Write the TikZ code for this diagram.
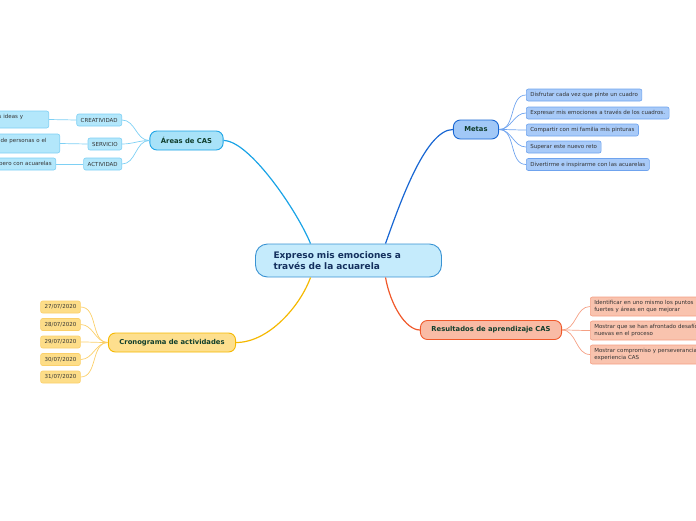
\documentclass[tikz,border=0pt]{standalone}
\usepackage{fontspec}
\setmainfont{DejaVu Sans}
\usepackage{tikz}

\definecolor{mainfill}{HTML}{C5EBFC}
\definecolor{mainline}{HTML}{3A93D3}
\definecolor{navytext}{HTML}{14305E}
\definecolor{greentext}{HTML}{103E2C}
\definecolor{leaftext}{HTML}{333333}
\definecolor{casfill}{HTML}{A8E2F8}
\definecolor{casline}{HTML}{1AA3E6}
\definecolor{subfill}{HTML}{B3E7FB}
\definecolor{subline}{HTML}{7ED0F4}
\definecolor{metfill}{HTML}{A1C8F7}
\definecolor{metline}{HTML}{1766D3}
\definecolor{metleaf}{HTML}{A8CAF8}
\definecolor{metleafline}{HTML}{6FA3EE}
\definecolor{resfill}{HTML}{F9BBA5}
\definecolor{resline}{HTML}{F0592B}
\definecolor{resleaf}{HTML}{F9C3AE}
\definecolor{resleafline}{HTML}{F5A084}
\definecolor{cronfill}{HTML}{FDDF8E}
\definecolor{cronline}{HTML}{F5B800}
\definecolor{cronleaf}{HTML}{FDDD88}
\definecolor{cronleafline}{HTML}{FBD06A}

\begin{document}
\begin{tikzpicture}[x=1pt,y=-1pt]

\tikzset{
    topic/.style={draw, line width=0.9pt, rounded corners=7pt, inner xsep=11pt, minimum height=19pt, text=greentext, font=\fontsize{6.8}{8}\selectfont\bfseries},
    leaf/.style={draw, line width=0.6pt, rounded corners=2pt, inner xsep=4pt, inner ysep=2pt, minimum height=12pt, text=leaftext, font=\fontsize{5.5}{6.8}\selectfont, align=left},
    twig/.style={line width=0.7pt},
    branch/.style={line width=1.2pt}
}
\useasboundingbox (0,0) rectangle (696,520);
\clip (0,0) rectangle (696,520);

\node[draw=mainline, fill=mainfill, line width=0.9pt, rounded corners=12pt, text width=150pt, align=left, inner xsep=18pt, minimum height=33pt, text=navytext, font=\fontsize{9}{11.5}\selectfont\bfseries] (main) at (348.5,260.5) {Expreso mis emociones a\\través de la acuarela};

% Areas de CAS
\node[topic, draw=casline, fill=casfill] (areas) at (186.5,140.5) {Áreas de CAS};
\node[leaf, draw=subline, fill=subfill, anchor=east] (creat) at (122,120) {CREATIVIDAD};
\node[leaf, draw=subline, fill=subfill, anchor=east] (serv) at (122,144) {SERVICIO};
\node[leaf, draw=subline, fill=subfill, anchor=east] (activ) at (122,164) {ACTIVIDAD};
\node[leaf, draw=subline, fill=subfill, anchor=east, text width=46pt, minimum height=17pt] (ideas) at (49,119.5) {s ideas y\\\mbox{}};
\node[leaf, draw=subline, fill=subfill, anchor=east, text width=55pt, minimum height=19pt] (personas) at (60,143.5) {de personas o el\\\mbox{}};
\node[leaf, draw=subline, fill=subfill, anchor=east, text width=62pt, align=right] (acuarelas) at (56,164) {pero con acuarelas};

% Metas
\node[topic, draw=metline, fill=metfill] (metas) at (476,129.5) {Metas};
\node[leaf, draw=metleafline, fill=metleaf, anchor=west] (m1) at (526,95) {Disfrutar cada vez que pinte un cuadro};
\node[leaf, draw=metleafline, fill=metleaf, anchor=west] (m2) at (526,113) {Expresar mis emociones a través de los cuadros.};
\node[leaf, draw=metleafline, fill=metleaf, anchor=west] (m3) at (526,130) {Compartir con mi familia mis pinturas};
\node[leaf, draw=metleafline, fill=metleaf, anchor=west] (m4) at (526,147) {Superar este nuevo reto};
\node[leaf, draw=metleafline, fill=metleaf, anchor=west] (m5) at (526,164.5) {Divertirme e inspirarme con las acuarelas};

% Resultados
\node[topic, draw=resline, fill=resfill] (res) at (491,330) {Resultados de aprendizaje CAS};
\node[leaf, draw=resleafline, fill=resleaf, anchor=west, text width=115pt, minimum height=19pt] (r1) at (590,306.5) {Identificar en uno mismo los puntos\\fuertes y áreas en que mejorar};
\node[leaf, draw=resleafline, fill=resleaf, anchor=west, text width=115pt, minimum height=19pt] (r2) at (590,330.5) {Mostrar que se han afrontado desafíos\\nuevas en el proceso};
\node[leaf, draw=resleafline, fill=resleaf, anchor=west, text width=115pt, minimum height=19pt] (r3) at (590,354.5) {Mostrar compromiso y perseverancia\\experiencia CAS};

% Cronograma
\node[topic, draw=cronline, fill=cronfill] (cron) at (172,342.5) {Cronograma de actividades};
\node[leaf, draw=cronleafline, fill=cronleaf] (d1) at (60.5,307) {27/07/2020};
\node[leaf, draw=cronleafline, fill=cronleaf] (d2) at (60.5,324.5) {28/07/2020};
\node[leaf, draw=cronleafline, fill=cronleaf] (d3) at (60.5,342) {29/07/2020};
\node[leaf, draw=cronleafline, fill=cronleaf] (d4) at (60.5,359.5) {30/07/2020};
\node[leaf, draw=cronleafline, fill=cronleaf] (d5) at (60.5,377) {31/07/2020};

% main branches
\draw[branch, casline] ([xshift=-38pt]main.north) .. controls +(-13,-32) and +(26,0) .. (areas.east);
\draw[branch, metline] ([xshift=37pt]main.north) .. controls +(13,-36) and +(-28,0) .. (metas.west);
\draw[branch, resline] ([xshift=37pt]main.south) .. controls +(5,28) and +(-14,0) .. (res.west);
\draw[branch, cronline] ([xshift=-38pt]main.south) .. controls +(-10,28) and +(33,0) .. (cron.east);

% twigs
\foreach \n in {creat,serv,activ}
    \draw[twig, subline] (areas.west) to[out=180,in=0] (\n.east);
\draw[twig, subline] (creat.west) -- (ideas.east);
\draw[twig, subline] (serv.west) -- (personas.east);
\draw[twig, subline] (activ.west) -- (acuarelas.east);
\foreach \n in {m1,m2,m3,m4,m5}
    \draw[twig, metleafline] (metas.east) to[out=0,in=180] (\n.west);
\foreach \n in {r1,r2,r3}
    \draw[twig, resleafline] (res.east) to[out=0,in=180] (\n.west);
\foreach \n in {d1,d2,d3,d4,d5}
    \draw[twig, cronleafline] (cron.west) to[out=180,in=0] (\n.east);
\end{tikzpicture}
\end{document}
